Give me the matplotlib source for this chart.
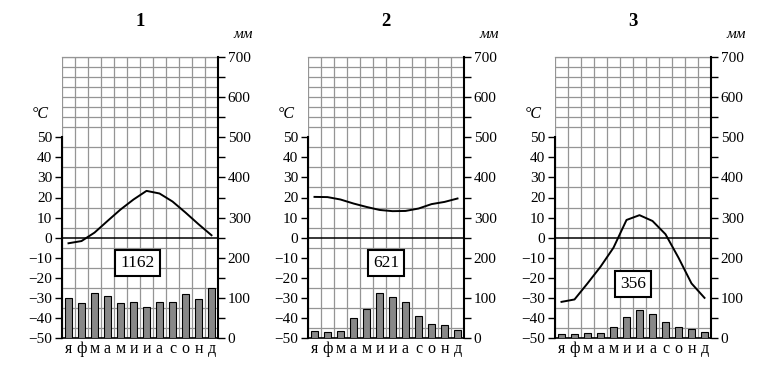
import numpy as np
import matplotlib.pyplot as plt

plt.rcParams['font.family'] = ['Liberation Serif', 'DejaVu Serif']

months = ['я', 'ф', 'м', 'а', 'м', 'и', 'и', 'а', 'с', 'о', 'н', 'д']
panel_titles = ['1', '2', '3']
annual_totals = ['1162', '621', '356']

temp_1 = [-2.8, -1.7, 2.5, 8.3, 14.0, 19.0, 23.3, 22.0, 18.0, 12.5, 6.7, 1.2]
temp_2 = [20.3, 20.2, 19.0, 17.0, 15.3, 13.8, 13.2, 13.3, 14.5, 16.7, 17.8, 19.5]
temp_3 = [-32.0, -30.8, -22.8, -14.5, -5.0, 8.8, 11.2, 8.3, 1.7, -10.0, -22.8, -30.0]

precip_1 = [100, 87, 112, 104, 87, 90, 77, 90, 90, 110, 96, 125]
precip_2 = [17, 16, 17.5, 50, 72, 112, 103, 90, 55, 36, 32, 20]
precip_3 = [11, 10, 12, 12.5, 27, 52, 70, 60, 41, 27.5, 22.5, 14]

# where the total-precipitation box sits (x in months, y in degrees)
box_pos = [(5.8, -12.5), (6.0, -12.5), (6.0, -23.0)]

temps = [temp_1, temp_2, temp_3]
precips = [precip_1, precip_2, precip_3]

W, H = 771, 377
lefts = [62, 308, 555]
ax_w = 156
top_px, bottom_px = 57, 338

fig = plt.figure(figsize=(W / 100, H / 100), dpi=100)
x = np.arange(12) + 0.5

for i in range(3):
    ax = fig.add_axes([lefts[i] / W, (H - bottom_px) / H, ax_w / W, (bottom_px - top_px) / H])
    ax.set_xlim(0, 12)
    ax.set_ylim(-50, 90)

    # grid
    ax.set_xticks(np.arange(0, 13), minor=True)
    ax.set_yticks(np.arange(-50, 91, 5), minor=True)
    ax.grid(which='minor', color='#959595', lw=0.9)
    ax.tick_params(which='minor', length=0)
    ax.set_axisbelow(True)

    ax.set_xticks(x)
    ax.set_xticklabels(months, fontsize=11.5)
    ax.tick_params(axis='x', length=0, pad=2)
    ax.set_yticks(np.arange(-50, 51, 10))
    ax.tick_params(axis='y', direction='out', length=5, width=1, labelsize=11, pad=2)

    ax.spines['left'].set_bounds(-50, 50)
    ax.spines['left'].set_linewidth(1.5)
    ax.spines['right'].set_visible(False)
    ax.spines['top'].set_color('#959595')
    ax.spines['top'].set_linewidth(0.9)
    ax.spines['bottom'].set_linewidth(1.2)

    ax.axhline(0, color='black', lw=1.1, zorder=2)
    ax.plot(x, temps[i], color='black', lw=1.4, zorder=3)

    ax2 = ax.twinx()
    ax2.set_ylim(0, 700)
    ax2.bar(x, precips[i], width=0.56, color='#888888', edgecolor='black', lw=0.8, zorder=3)
    ax2.set_yticks(np.arange(0, 701, 100))
    ax2.set_yticks(np.arange(50, 700, 100), minor=True)
    ax2.tick_params(which='both', direction='out', length=5, width=1, labelsize=11, pad=2)
    for s in ['left', 'top', 'bottom']:
        ax2.spines[s].set_visible(False)
    ax2.spines['right'].set_linewidth(1.5)

    bx, by = box_pos[i]
    ax.text(bx, by, annual_totals[i], fontsize=12.5, ha='center', va='center', zorder=5,
            bbox=dict(boxstyle='square,pad=0.3', facecolor='white', edgecolor='black', lw=1.5))

    ax.text(0.5, 1 + 35 / 281, panel_titles[i], transform=ax.transAxes,
            ha='center', va='center', fontsize=13.5, fontweight='bold')
    ax.text(1 + 25 / ax_w, 1 + 23 / 281, 'мм', transform=ax.transAxes,
            ha='center', va='center', fontsize=11, style='italic')
    ax.text(-22 / ax_w, 61.5, '°C', transform=ax.get_yaxis_transform(),
            ha='center', va='center', fontsize=11.5, style='italic')

fig.savefig('out.png', dpi=100)
